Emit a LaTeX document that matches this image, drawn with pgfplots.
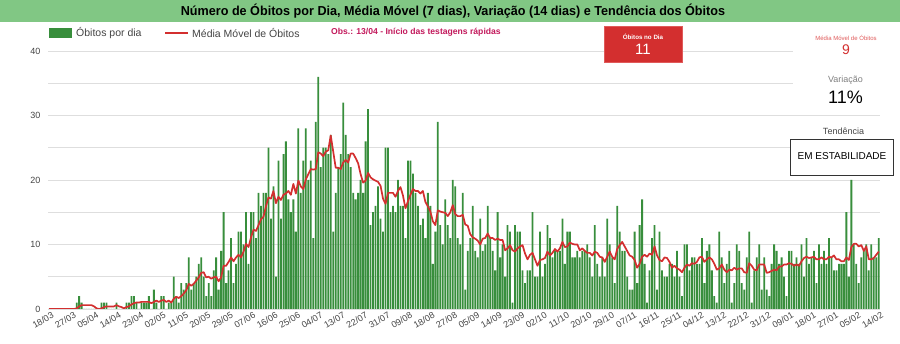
\documentclass[border=0pt]{standalone}
\usepackage{pgfplots}
\pgfplotsset{compat=1.18}
\usepackage{pgfplotstable}
\usepackage{fontspec}
\setmainfont{Liberation Sans}
\usepackage{graphicx}
\definecolor{bargreen}{RGB}{56,142,60}
\definecolor{mared}{RGB}{211,47,47}
\definecolor{titlegreen}{RGB}{129,199,132}
\definecolor{obscol}{RGB}{194,24,91}
\definecolor{tickgray}{RGB}{68,68,68}
\definecolor{gridgray}{RGB}{222,222,222}
\definecolor{lightred}{RGB}{224,90,90}

\pgfplotstableread{
d v m
0 0 0
1 0 0
2 0 0
3 0 0
4 0 0
5 0 0
6 0 0
7 0 0
8 0 0
9 0 0
10 0 0
11 1 0.1
12 2 0.4
13 1 0.6
14 0 0.6
15 0 0.6
16 0 0.6
17 0 0.6
18 0 0.4
19 0 0.1
20 0 0
21 1 0.1
22 1 0.3
23 1 0.4
24 0 0.4
25 0 0.4
26 0 0.4
27 1 0.6
28 0 0.4
29 0 0.3
30 0 0.1
31 1 0.3
32 1 0.4
33 2 0.7
34 2 0.9
35 1 1.0
36 0 1.0
37 1 1.1
38 1 1.1
39 1 1.1
40 2 1.1
41 0 0.9
42 3 1.1
43 1 1.3
44 0 1.1
45 2 1.3
46 2 1.4
47 0 1.1
48 1 1.3
49 1 1.0
50 5 1.6
51 2 1.9
52 1 1.7
53 4 2.0
54 3 2.4
55 4 2.9
56 8 3.9
57 3 3.6
58 4 3.9
59 5 4.4
60 7 4.9
61 8 5.6
62 5 5.7
63 2 4.9
64 4 5.0
65 2 4.7
66 6 4.9
67 8 5.0
68 3 4.3
69 9 4.9
70 15 6.7
71 4 6.7
72 6 7.3
73 11 8.0
74 4 7.4
75 7 8.0
76 12 8.4
77 12 8.0
78 10 8.9
79 15 10.1
80 7 9.6
81 15 11.1
82 15 12.3
83 11 12.1
84 18 13.0
85 16 13.9
86 18 14.3
87 18 15.9
88 25 17.3
89 14 17.1
90 19 18.3
91 5 16.4
92 23 17.4
93 14 16.9
94 24 17.7
95 26 17.9
96 17 18.3
97 15 17.7
98 17 19.4
99 12 17.9
100 28 19.9
101 18 19.0
102 23 18.6
103 28 20.1
104 20 20.9
105 23 21.7
106 11 21.6
107 29 21.7
108 36 24.3
109 22 24.1
110 25 23.7
111 25 24.4
112 24 24.6
113 27 26.9
114 12 24.4
115 18 21.9
116 22 21.9
117 24 21.7
118 32 22.7
119 27 23.1
120 24 22.7
121 22 24.1
122 18 24.1
123 17 23.4
124 18 22.6
125 20 20.9
126 18 19.6
127 26 19.9
128 31 21.1
129 13 20.4
130 15 20.1
131 16 19.9
132 19 19.7
133 14 19.1
134 12 17.1
135 25 16.3
136 25 18.0
137 15 18.0
138 16 18.0
139 15 17.4
140 20 18.3
141 16 18.9
142 16 17.6
143 11 15.6
144 23 16.7
145 23 17.7
146 21 18.6
147 18 18.3
148 16 18.3
149 13 17.9
150 14 18.3
151 11 16.6
152 18 15.9
153 16 15.1
154 7 13.6
155 12 13.0
156 29 15.3
157 13 15.1
158 10 15.0
159 17 14.9
160 13 14.4
161 11 15.0
162 20 16.1
163 19 14.7
164 11 14.4
165 10 14.4
166 18 14.6
167 3 13.1
168 9 12.9
169 11 11.6
170 16 11.1
171 9 10.9
172 8 10.6
173 14 10.0
174 9 10.9
175 10 11.0
176 16 11.7
177 11 11.0
178 9 11.0
179 6 10.7
180 15 10.9
181 8 10.7
182 10 10.7
183 5 9.1
184 13 9.4
185 12 9.9
186 1 9.1
187 13 8.9
188 12 9.4
189 12 9.7
190 6 9.9
191 4 8.6
192 6 7.7
193 6 8.4
194 15 8.7
195 5 7.7
196 5 6.7
197 12 7.6
198 5 7.7
199 7 7.9
200 13 8.9
201 11 8.3
202 8 8.7
203 9 9.3
204 9 8.9
205 9 9.4
206 14 10.4
207 7 9.6
208 12 9.7
209 12 10.3
210 8 10.1
211 8 10.0
212 9 10.0
213 8 9.1
214 9 9.4
215 9 9.0
216 10 8.7
217 8 8.7
218 5 8.3
219 13 8.9
220 7 8.7
221 5 8.1
222 8 8.0
223 5 7.3
224 14 8.1
225 10 8.9
226 8 8.1
227 4 7.7
228 16 9.3
229 12 9.9
230 9 10.4
231 9 9.7
232 5 9.0
233 3 8.3
234 3 8.1
235 12 7.6
236 4 6.4
237 13 7.0
238 17 8.1
239 7 8.4
240 1 8.1
241 6 8.6
242 11 8.4
243 13 9.7
244 3 8.3
245 12 7.6
246 6 7.4
247 5 8.0
248 5 7.9
249 7 7.3
250 7 6.4
251 5 6.7
252 9 6.3
253 5 6.1
254 2 5.7
255 10 6.4
256 10 6.9
257 6 6.7
258 8 7.1
259 8 7.0
260 7 7.3
261 7 8.0
262 11 8.1
263 4 7.3
264 9 7.7
265 10 8.0
266 6 7.7
267 2 7.0
268 1 6.1
269 12 6.3
270 8 6.9
271 4 6.1
272 7 5.7
273 9 6.1
274 1 6.0
275 4 6.4
276 10 6.1
277 9 6.3
278 4 6.3
279 3 5.7
280 8 5.6
281 12 7.1
282 1 6.7
283 6 6.1
284 8 6.0
285 10 6.9
286 3 6.9
287 8 6.9
288 3 5.6
289 2 5.7
290 7 5.9
291 10 6.1
292 9 6.0
293 7 6.6
294 8 6.6
295 5 6.9
296 2 6.9
297 9 7.1
298 9 7.0
299 7 6.7
300 8 6.9
301 7 6.7
302 10 7.4
303 5 7.9
304 11 8.1
305 7 7.9
306 8 8.0
307 9 8.1
308 4 7.7
309 10 7.7
310 7 8.0
311 9 7.7
312 7 7.7
313 11 8.1
314 8 8.0
315 6 8.3
316 6 7.7
317 7 7.7
318 7 7.4
319 7 7.4
320 15 8.0
321 5 7.6
322 20 9.6
323 10 10.1
324 7 10.1
325 4 9.7
326 8 9.9
327 9 9.0
328 10 9.7
329 6 7.7
330 10 7.7
331 8 7.9
332 8 8.4
333 11 8.9
}\datatable

\begin{document}
\begin{tikzpicture}[x=1pt,y=1pt]
\useasboundingbox (0,0) rectangle (900,344);
\fill[titlegreen] (0,322) rectangle (900,344);
\node[font=\fontsize{13}{15}\selectfont\bfseries, text=black] at (453,333)
  {\scalebox{0.97}[1]{Número de Óbitos por Dia, Média Móvel (7 dias), Variação (14 dias) e Tendência dos Óbitos}};

\begin{axis}[at={(48pt,35pt)}, anchor=south west, scale only axis,
  width=832pt, height=258pt,
  xmin=-0.5, xmax=333.5, ymin=0, ymax=40,
  axis line style={draw=none},
  ytick={0,5,...,40}, yticklabels={0,,10,,20,,30,,40},
  ymajorgrids, grid style={gridgray, line width=0.9pt},
  major tick length=0pt,
  xtick={0,9,...,333},
  xticklabels={18/03,27/03,05/04,14/04,23/04,02/05,11/05,20/05,29/05,07/06,16/06,25/06,04/07,13/07,22/07,31/07,09/08,18/08,27/08,05/09,14/09,23/09,02/10,11/10,20/10,29/10,07/11,16/11,25/11,04/12,13/12,22/12,31/12,09/01,18/01,27/01,05/02,14/02},
  x tick label style={rotate=30, anchor=north east, font=\fontsize{9}{9}\selectfont, text=tickgray, inner sep=1pt, yshift=-2pt, xshift=1.5pt},
  y tick label style={font=\fontsize{9}{9}\selectfont, text=tickgray, xshift=-4pt},
  /pgf/number format/assume math mode=true,
]
\addplot[ybar, bar width=0.72, fill=bargreen, draw=none] table[x=d,y=v]{\datatable};
\addplot[mared, line width=1.7pt, line join=round, mark=none] table[x=d,y=m]{\datatable};
\draw[black, line width=0.8pt] (axis cs:-0.5,0) -- (axis cs:333.5,0);
\end{axis}

% legend
\fill[bargreen] (49,306) rectangle (72,316);
\node[anchor=west, font=\fontsize{10.5}{12}\selectfont, text=tickgray, inner sep=0pt] at (76,311) {Óbitos por dia};
\draw[mared, line width=2.5pt] (165,311) -- (188,311);
\node[anchor=west, font=\fontsize{10.5}{12}\selectfont, text=tickgray, inner sep=0pt] at (192,311) {Média Móvel de Óbitos};
\node[anchor=west, font=\fontsize{8.6}{10}\selectfont\bfseries, text=obscol, inner sep=0pt] at (331,312) {Obs.: 13/04 - Início das testagens rápidas};

% cards
\fill[white] (793,232) rectangle (900,318);
\fill[mared, draw=lightred, line width=0.6pt] (604,281.3) rectangle (682,317.3);
\node[font=\fontsize{6.2}{7}\selectfont\bfseries, text=white] at (643,307.3) {Óbitos no Dia};
\node[font=\fontsize{15}{16}\selectfont, text=white] at (643,294.5) {11};
\node[font=\fontsize{6}{7}\selectfont, text=lightred] at (846,306) {Média Móvel de Óbitos};
\node[font=\fontsize{14}{15}\selectfont, text=mared] at (846,294) {9};
\node[font=\fontsize{9}{10}\selectfont, text=gray] at (845.5,263.3) {Variação};
\node[font=\fontsize{18}{19}\selectfont, text=black] at (845.5,247) {11\%};
\node[font=\fontsize{9}{10}\selectfont, text=tickgray] at (843.5,212.3) {Tendência};
\filldraw[fill=white, draw=black!80, line width=0.8pt] (790.7,169) rectangle (893.3,204.7);
\node[font=\fontsize{10}{11}\selectfont, text=black] at (842,188.3) {EM ESTABILIDADE};
\end{tikzpicture}
\end{document}
